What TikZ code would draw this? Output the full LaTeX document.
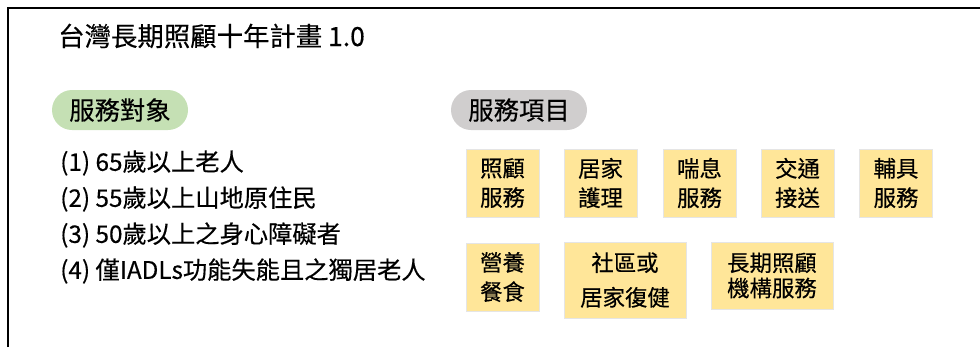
\documentclass[tikz,border=0pt]{standalone}
\usepackage{fontspec}
\setmainfont{Noto Sans CJK TC}[FakeBold=0.35]
\usetikzlibrary{positioning}
\definecolor{PillGreen}{RGB}{197,224,180}
\definecolor{PillGray}{RGB}{208,206,206}
\definecolor{BoxYellow}{RGB}{255,230,153}

\begin{document}
\begin{tikzpicture}[
        x=0.75pt, y=-0.75pt,
        % --- TIÊU ĐỀ ---
        titletext/.style={anchor=west, inner sep=0pt, font=\fontsize{19.8}{22}\selectfont},
        % --- NHÃN BO TRÒN ---
        pill/.style={
            rectangle,
            rounded corners=15pt,
            minimum width=102pt,
            minimum height=30pt,
            inner sep=2pt,
            font=\fontsize{19}{22}\selectfont
        },
        % --- DANH SÁCH ĐỐI TƯỢNG ---
        item/.style={anchor=west, inner sep=0pt, font=\fontsize{18.2}{21}\selectfont},
        % --- HỘP DỊCH VỤ (VÀNG) ---
        svcbox/.style={
            rectangle,
            draw=black!10,
            fill=BoxYellow,
            align=center,
            inner sep=2pt,
            minimum width=54.75pt,
            minimum height=51pt,
            font=\fontsize{16.8}{22}\selectfont
        },
        widebox/.style={
            svcbox,
            minimum width=91.5pt
        }
    ]

        \useasboundingbox (0,0) rectangle (980,347);

        % --- KHUNG ---
        \draw[line width=1.9pt] (8,347) -- (8,8) -- (980,8);

        % --- TIÊU ĐỀ ---
        \node[titletext] (title) at (58,36) {台灣長期照顧十年計畫 1.0};

        % --- NHÃN ---
        \node[pill, fill=PillGreen] (target) at (120,110) {服務對象};
        \node[pill, fill=PillGray] (service) at (519,110) {服務項目};

        % --- ĐỐI TƯỢNG ---
        \node[item] (obj1) at (60,163) {(1) 65歲以上老人};
        \node[item] (obj2) at (60,199) {(2) 55歲以上山地原住民};
        \node[item] (obj3) at (60,235) {(3) 50歲以上之身心障礙者};
        \node[item] (obj4) at (60,271) {(4) 僅IADLs功能失能且之獨居老人};

        % --- HÀNG 1 ---
        \node[svcbox] (care) at (502.5,183) {照顧\\服務};
        \node[svcbox] (nursing) at (600.5,183) {居家\\護理};
        \node[svcbox] (respite) at (699.5,183) {喘息\\服務};
        \node[svcbox] (transport) at (797.5,183) {交通\\接送};
        \node[svcbox] (aids) at (896,183) {輔具\\服務};

        % --- HÀNG 2 ---
        \node[svcbox] (meal) at (502.5,277) {營養\\餐食};
        \node[widebox, minimum height=57pt] (rehab) at (625,280) {社區或\\[4pt]居家復健};
        \node[widebox, minimum height=50pt,
              font=\fontsize{16.8}{19}\selectfont] (institution) at (772,275.5) {長期照顧\\機構服務};

    \end{tikzpicture}
\end{document}
